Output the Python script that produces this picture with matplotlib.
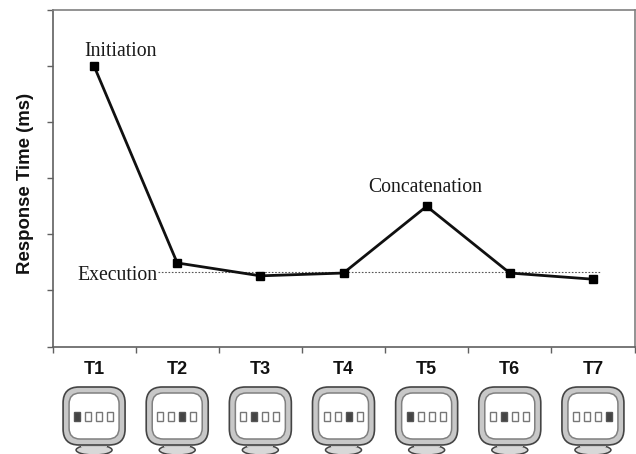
import matplotlib
matplotlib.use("Agg")
import matplotlib.pyplot as plt
from matplotlib.patches import FancyBboxPatch, Ellipse, Rectangle

W, H = 636, 454
categories = ["T1", "T2", "T3", "T4", "T5", "T6", "T7"]
response = [250, 74.5, 63, 65.5, 125, 65.5, 60]
execution_level = 66
highlight = [0, 2, 1, 2, 0, 1, 3]
y_ticks = [0, 50, 100, 150, 200, 250, 300]
ylabel = "Response Time (ms)"

plt.rcParams["font.family"] = ["Liberation Sans", "DejaVu Sans"]
fig = plt.figure(figsize=(W / 100, H / 100), dpi=100, facecolor="white")

L, R, T, B = 52.5, 634.5, 10, 346.5
ax = fig.add_axes([L / W, 1 - B / H, (R - L) / W, (B - T) / H])
ax.set_xlim(-0.5, 6.5)
ax.set_ylim(0, 300)
ax.patch.set_alpha(0)

gray = "#606060"
for s in ax.spines.values():
    s.set_color(gray)
    s.set_linewidth(1.2)
ax.spines["right"].set_color("#808080")
ax.spines["top"].set_color("#808080")

ax.set_yticks(y_ticks)
ax.set_yticklabels([])
ax.set_xticks([i - 0.5 for i in range(8)])
ax.set_xticklabels([])
ax.tick_params(axis="y", length=4.5, width=1, color=gray)
ax.tick_params(axis="x", length=4, width=1, color=gray)

xs = list(range(len(categories)))
ax.plot([0.77, 6.1], [execution_level] * 2, ls=(0, (1.5, 1.5)), lw=0.8, color="#555555", zorder=1)
ax.plot(xs, response, color="#101010", lw=2, marker="s", ms=5.5, mfc="black", mec="black",
        zorder=3, solid_joinstyle="miter")

serif = dict(family="Liberation Serif", color="#1a1a1a", fontsize=14.2)
ax.annotate("Initiation", (0, response[0]), xytext=(-7, 3.5), textcoords="offset points",
            ha="left", va="bottom", **serif)
ax.annotate("Concatenation", (4, response[4]), xytext=(-42, 6.5), textcoords="offset points",
            ha="left", va="bottom", **serif)
ax.annotate("Execution", (1, execution_level), xytext=(-14, -2), textcoords="offset points",
            ha="right", va="center", **serif)

fig.text(26 / W, 1 - 183 / H, ylabel, rotation=90, ha="center", va="center",
         fontsize=13.4, fontweight="bold", color="#111111")

# overlay in pixel coordinates for the monitor icons
ov = fig.add_axes([0, 0, 1, 1])
ov.set_xlim(0, W)
ov.set_ylim(H, 0)
ov.axis("off")
ov.patch.set_alpha(0)

for i, (cat, h) in enumerate(zip(categories, highlight)):
    cx = ax.transData.transform((i, 0))[0]
    ov.text(cx, 369, cat, ha="center", va="center", fontsize=13, fontweight="bold", color="#111111")
    ov.add_patch(Ellipse((cx, 450), 36, 10, fc="#d8d8d8", ec="#444444", lw=1.1, zorder=1))
    ov.add_patch(Rectangle((cx - 13, 444), 26, 3, fc="#c8c8c8", ec="none", zorder=1.5))
    ov.add_patch(FancyBboxPatch((cx - 19, 399), 38, 34, boxstyle="round,pad=12,rounding_size=16",
                                fc="#c8c8c8", ec="#444444", lw=1.2, zorder=2))
    ov.add_patch(FancyBboxPatch((cx - 15, 403), 30, 26, boxstyle="round,pad=10,rounding_size=11",
                                fc="white", ec="#808080", lw=1.1, zorder=3))
    for k, off in enumerate([-17, -6, 5, 16]):
        dark = k == h
        ov.add_patch(Rectangle((cx + off - 3, 411.5), 6, 9, fc="#444444" if dark else "white",
                               ec="#555555" if dark else "#777777", lw=1, zorder=4))

fig.savefig("out.png", dpi=100, facecolor="white")
